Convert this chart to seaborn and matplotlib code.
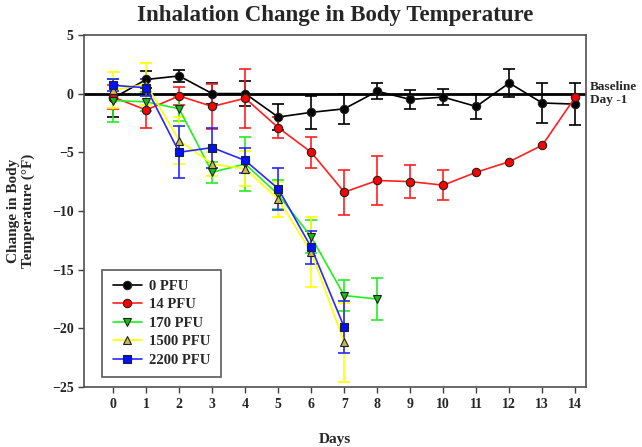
import numpy as np
import pandas as pd
import matplotlib
matplotlib.use("Agg")
import matplotlib.pyplot as plt
import seaborn as sns

# values (mean change in deg F, error bar half-length)
pfu_0 = [-0.4, 1.2, 1.5, 0.0, 0.0, -2.0, -1.6, -1.3, 0.2, -0.5, -0.3, -1.1, 0.9, -0.8, -0.9]
pfu_0_err = [1.6, 0.7, 0.5, 0.9, 1.1, 1.1, 1.4, 1.3, 0.7, 0.8, 0.7, 1.1, 1.2, 1.7, 1.8]

pfu_14 = [-0.3, -1.4, -0.2, -1.1, -0.4, -2.9, -5.0, -8.4, -7.4, -7.5, -7.8, -6.7, -5.8, -4.4, -0.3]
pfu_14_err = [1.0, 1.5, 0.8, 1.9, 2.5, 0.9, 1.3, 1.9, 2.1, 1.4, 1.3, np.nan, np.nan, np.nan, np.nan]

pfu_170 = [-0.6, -0.7, -1.3, -6.7, -6.0, -8.6, -12.2, -17.2, -17.5]
pfu_170_err = [1.8, 0.8, 1.0, 0.9, 2.3, 1.2, 1.4, 1.3, 1.8]

pfu_1500 = [0.3, 0.8, -4.0, -6.0, -6.4, -9.0, -13.5, -21.2]
pfu_1500_err = [1.5, 1.8, 2.0, 1.0, 1.5, 1.5, 3.0, 3.4]

pfu_2200 = [0.7, 0.5, -5.0, -4.6, -5.7, -8.1, -13.1, -19.9]
pfu_2200_err = [0.5, 0.7, 2.2, 1.7, 1.1, 1.8, 1.4, 2.2]

groups = ["0 PFU", "14 PFU", "170 PFU", "1500 PFU", "2200 PFU"]
means = [pfu_0, pfu_14, pfu_170, pfu_1500, pfu_2200]
errs = [pfu_0_err, pfu_14_err, pfu_170_err, pfu_1500_err, pfu_2200_err]

line_colors = ["#000000", "#ff2020", "#22ee22", "#ffff00", "#2828ff"]
face_colors = ["#000000", "#ff0000", "#10c010", "#c8b850", "#0010ff"]
marker_map = {"0 PFU": "o", "14 PFU": "o", "170 PFU": "v", "1500 PFU": "^", "2200 PFU": "s"}

rows = []
for g, m, e in zip(groups, means, errs):
    for d, (v, s) in enumerate(zip(m, e)):
        rows.append({"Days": d, "temp": v, "err": s, "group": g})
df = pd.DataFrame(rows)

sns.set_style("ticks")
plt.rcParams['font.family'] = ['Liberation Serif', 'DejaVu Serif']
plt.rcParams['font.weight'] = 'bold'

fig = plt.figure(figsize=(6.42, 4.47), dpi=100)
ax = fig.add_axes([0.131, 0.134, 0.782, 0.788])

ax.axhline(0, color="black", lw=2, zorder=1)

for g, lc in zip(groups, line_colors):
    sub = df[df.group == g]
    ax.errorbar(sub.Days, sub.temp, yerr=sub.err, fmt="none", ecolor=lc,
                elinewidth=1.2, capsize=4, capthick=1.2, zorder=2)

sns.lineplot(data=df, x="Days", y="temp", hue="group", style="group",
             hue_order=groups, style_order=groups, palette=line_colors,
             markers=marker_map, dashes=False, lw=1.2, markersize=6,
             markeredgecolor="#202020", markeredgewidth=0.8, ax=ax, zorder=3,
             legend=False)

# recolour marker faces
for line, fc in zip(ax.get_lines()[-5:], face_colors):
    line.set_markerfacecolor(fc)

handles = [plt.Line2D([], [], color=lc, lw=1.2, marker=marker_map[g], markersize=6,
                      markerfacecolor=fc, markeredgecolor="#202020", markeredgewidth=0.8)
           for g, lc, fc in zip(groups, line_colors, face_colors)]
leg = ax.legend(handles, groups, loc="lower left", bbox_to_anchor=(0.022, 0.008),
                frameon=True, fancybox=False, edgecolor="#303030",
                prop={"weight": "bold", "size": 10.5}, handlelength=2.0,
                handletextpad=0.5, labelspacing=0.36, borderpad=0.7)
leg.get_frame().set_linewidth(1.2)

ax.set_xlim(-0.88, 14.33)
ax.set_ylim(-25, 5)
ax.set_xticks(range(15))
ax.set_yticks([5, 0, -5, -10, -15, -20, -25])
ax.tick_params(axis="both", labelsize=10, length=4, width=1, color="#404040")
for lab in ax.get_xticklabels() + ax.get_yticklabels():
    lab.set_fontweight("bold")
for sp in ax.spines.values():
    sp.set_visible(True)
    sp.set_color("#505050")
    sp.set_linewidth(1.2)

ax.set_xlabel("Days", fontsize=11, fontweight="bold", labelpad=16)
ax.set_ylabel("Change in Body\nTemperature (\u00b0F)", fontsize=11, fontweight="bold", labelpad=12)
ax.set_title("Inhalation Change in Body Temperature", fontsize=16.5, fontweight="bold", pad=10)

ax.text(14.45, 0, "Baseline\nDay -1", fontsize=9.5, fontweight="bold", va="center",
        ha="left", linespacing=1.1, clip_on=False)

fig.savefig("out.png", dpi=100)
